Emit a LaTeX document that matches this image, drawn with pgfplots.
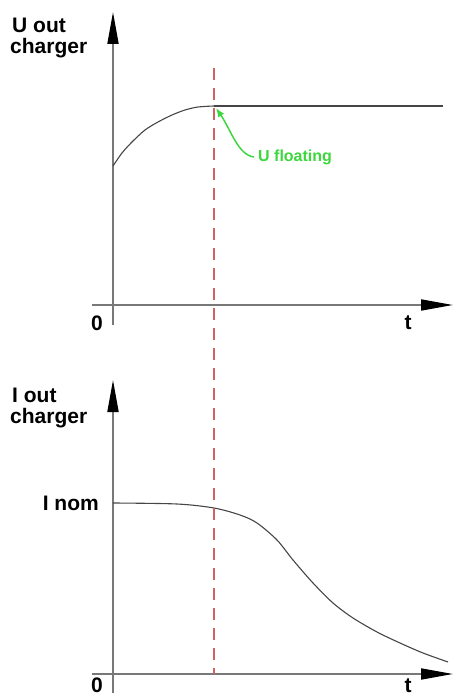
\documentclass[border=0pt]{standalone}
\usepackage{fontspec}
\setmainfont{Liberation Sans}
\usepackage{pgfplots}
\pgfplotsset{compat=1.18}
\usetikzlibrary{arrows.meta}
\definecolor{AxisGray}{RGB}{120,120,120}
\definecolor{CurveGray}{RGB}{70,70,70}
\definecolor{DashRed}{RGB}{205,100,100}
\definecolor{NoteGreen}{RGB}{60,215,60}

\pgfplotsset{
  sketch/.style={
    x=1pt, y=1pt,
    xmin=-21, xmax=340,
    axis lines=middle,
    enlargelimits=false,
    ticks=none,
    clip=false,
    axis line style={draw=AxisGray, line width=1.8pt},
    every inner x axis line/.append style={-{Triangle[length=32pt,width=11pt,black]}},
    every inner y axis line/.append style={-{Triangle[length=32pt,width=11pt,black]}},
  },
}
\tikzset{lbl/.style={font=\fontsize{21}{23}\selectfont\bfseries, inner sep=0pt}}

\begin{document}
\begin{tikzpicture}
  % upper panel: output voltage
  \begin{axis}[sketch, ymin=-20, ymax=293, at={(0pt,0pt)}, anchor=origin]
    \addplot[CurveGray, line width=1.1pt, smooth] coordinates {
      (0,139) (9,152) (19,163) (32,175) (45,183) (59,190) (72,195) (85,198) (101,199)
    };
    \addplot[CurveGray, line width=1.1pt] coordinates {(101,199) (330,199)};
    \coordinate (dtop) at (axis cs:101,237);
    \node[lbl, anchor=west] at (axis cs:-101,280) {U out};
    \node[lbl, anchor=west] at (axis cs:-103,257) {charger};
    \node[lbl] at (axis cs:-16,-18) {0};
    \node[lbl] at (axis cs:295,-18) {t};
    \draw[NoteGreen, line width=1.5pt, -{Latex[length=9pt,width=7pt]}]
      (axis cs:141,148) .. controls (axis cs:125,150) and (axis cs:118,175) .. (axis cs:103,197);
    \node[NoteGreen, anchor=west, inner sep=0pt,
          font=\fontsize{16}{18}\selectfont\bfseries] at (axis cs:145,148) {U floating};
  \end{axis}

  % lower panel: output current
  \begin{axis}[sketch, ymin=-19, ymax=294, at={(0pt,-369pt)}, anchor=origin]
    \addplot[CurveGray, line width=1.1pt, smooth] coordinates {
      (0,171) (64,170) (101,166) (127,159) (144,151) (164,134) (180,114)
      (200,91) (220,71) (240,56) (264,42) (287,31) (310,21) (335,12)
    };
    \coordinate (dbot) at (axis cs:101,0);
    \node[lbl, anchor=west] at (axis cs:-101,279) {I out};
    \node[lbl, anchor=west] at (axis cs:-103,256) {charger};
    \node[lbl, anchor=east] at (axis cs:-14,171) {I nom};
    \node[lbl, anchor=base] at (axis cs:-16,-18) {0};
    \node[lbl, anchor=base] at (axis cs:295,-18) {t};
  \end{axis}

  \draw[DashRed, line width=1.8pt, dash pattern=on 12pt off 8pt] (dtop) -- (dbot);

  \pgfresetboundingbox
  \path (-113pt,-393pt) rectangle (341pt,305pt);
\end{tikzpicture}
\end{document}
